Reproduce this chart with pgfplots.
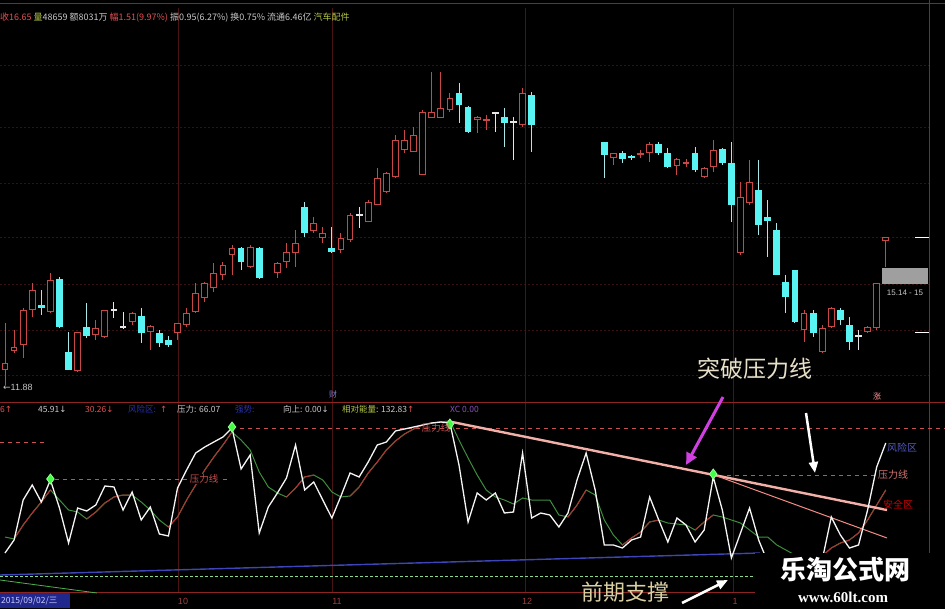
\documentclass[border=0pt]{standalone}
\usepackage{pgfplots}
\pgfplotsset{compat=1.18}
\usepackage{pgfplotstable}
\usepackage{fontspec}
\setmainfont{Liberation Sans}
\newfontfamily\cjk{Noto Sans CJK SC}
\newfontfamily\dejavu{DejaVu Sans}
\newfontfamily\wmserif{Liberation Serif}
\usetikzlibrary{arrows.meta}
\definecolor{cred}{HTML}{C84848}
\definecolor{ccyan}{HTML}{58F4F4}
\definecolor{cwick}{HTML}{A8E8E8}
\definecolor{cdoji}{HTML}{E6E6E6}
\definecolor{gridred}{HTML}{4A1414}
\definecolor{gridred2}{HTML}{381010}
\definecolor{sepred}{HTML}{8C2424}
\definecolor{trend}{HTML}{F2B0A8}
\definecolor{indred}{HTML}{B03232}
\definecolor{indgreen}{HTML}{3E8E3E}
\definecolor{indblue}{HTML}{2828B4}
\definecolor{lblred}{HTML}{C85050}
\definecolor{hdrgray}{HTML}{C8C8C8}
\definecolor{hdrred}{HTML}{E05050}
\definecolor{hdrgreen}{HTML}{B4C448}
\definecolor{hdrblue}{HTML}{2830B0}
\definecolor{hdrpurple}{HTML}{9050C0}
\definecolor{annot}{HTML}{E8E0C8}
\definecolor{annot2}{HTML}{D8CFA2}
\definecolor{magentaarrow}{HTML}{D040E0}

% candles: i open high low close (values in screen units, larger = lower price)
\pgfplotstableread{
i o h l c
0 370 323 385 363
1 351 330 353 347
2 345 308 358 310
3 310 283 317 290
5 312 273 313 280
8 371 332 372 332
10 335 320 340 328
11 337 310 338 310
14 322 312 325 313
16 332 325 350 326
19 333 323 340 323
20 325 308 327 313
21 312 283 313 293
22 298 282 302 283
23 288 263 292 273
24 275 262 280 265
25 255 245 275 248
27 267 245 268 247
30 273 262 278 263
31 262 243 268 252
32 253 230 267 243
34 231 217 233 223
35 238 227 243 233
37 250 233 253 238
38 240 213 242 215
40 222 200 222 202
41 205 168 205 178
42 192 172 193 173
43 177 135 178 140
44 150 130 153 140
45 152 127 152 135
46 175 110 175 112
47 118 72 118 112
48 118 72 118 108
49 110 93 112 98
52 120 116 133 117
53 120 115 130 120
57 125 88 127 93
67 158 153 165 153
70 154 150 158 154
71 153 142 162 144
74 166 158 175 159
75 163 159 167 163
77 177 167 178 168
78 167 140 172 150
81 253 182 255 197
82 203 160 205 182
88 330 310 342 313
90 352 325 353 328
91 327 307 328 308
95 332 326 333 327
96 328 283 330 283
97 241 237 267 237
}\candU
\pgfplotstableread{
i o h l c
4 305 290 315 308
6 279 277 328 327
7 352 332 370 370
9 327 303 338 336
15 316 308 343 333
17 333 330 347 343
18 340 336 347 345
26 248 247 270 262
28 248 247 279 278
33 207 202 237 233
36 248 227 253 252
50 93 83 123 105
51 107 106 133 132
55 117 108 147 123
58 95 92 152 125
66 142 142 178 155
68 153 151 163 159
69 156 155 160 158
72 144 142 155 153
73 153 148 168 167
76 153 147 172 170
79 149 148 165 163
80 163 142 222 205
83 190 160 235 225
84 217 200 257 221
85 230 223 275 275
86 282 275 313 297
87 270 270 323 322
89 313 310 337 333
92 310 308 325 320
93 325 317 350 342
}\candD
\pgfplotstableread{
i o h l c
12 310 302 318 310
13 327 312 329 327
39 215 207 228 215
54 113 112 132 113
56 122 117 160 122
94 336 330 350 336
}\candX
% indicator: i white smooth
\pgfplotstableread{
i w s
0 553 537
1 540 539
2 500 525
3 485 513
4 502 502
5 480 490
6 508 500
7 543 510
8 508 512
9 511 519
10 505 512
11 486 503
12 487 497
13 510 495
14 492 495
15 520 502
16 507 510
17 534 520
18 536 527
19 488 517
20 470 500
21 453 485
22 447 470
23 442 457
24 437 445
25 428 432
26 469 440
27 455 450
28 533 472
29 507 487
30 493 493
31 478 497
32 445 488
33 490 477
34 482 475
35 500 480
36 518 492
37 496 497
38 473 496
39 477 487
40 462 473
41 445 462
42 442 450
43 431 441
44 429 434
45 427 429
46 425 425
47 423 423
48 422 422
49 423 421
50 465 440
51 522 458
52 493 475
53 500 490
54 493 497
55 513 500
56 512 504
57 453 498
58 518 500
59 513 500
60 515 500
61 527 515
62 513 517
63 480 505
64 453 490
65 490 495
66 545 520
67 545 535
68 548 545
69 540 538
70 537 532
71 497 522
72 520 520
73 542 523
74 518 524
75 525 525
76 542 530
77 530 522
78 477 515
79 510 517
80 558 520
81 533 523
82 508 530
83 540 537
84 562 537
85 572 545
86 565 550
87 575 555
88 568 558
89 570 560
90 560 556
91 517 548
92 535 543
93 548 540
94 545 533
95 510 520
96 467 505
97 443 490
}\ind

\pgfplotsset{
  candle/.style 2 args={only marks, mark=none, mark size=0pt, color=#1,
    error bars/.cd, y dir=both, y explicit, error mark=none,
    error bar style={line width=#2, color=#1}},
}

\begin{document}
\begin{tikzpicture}
\path[use as bounding box, clip] (0,0) rectangle (945pt,609pt);
\fill[black] (0,0) rectangle (945pt,609pt);
\begin{axis}[at={(0,0)}, anchor=south west, width=945pt, height=609pt,
  scale only axis, hide axis, xmin=-0.5507, xmax=103.524, ymin=0, ymax=609,
  y dir=reverse]
% ---- grid lines upper panel
\pgfplotsinvokeforeach{65,127,183,237,284,330,375}{
  \addplot[gridred2, dash pattern=on 2pt off 2pt, line width=0.6pt] coordinates {(-0.55,#1) (101.76,#1)};
}
\pgfplotsinvokeforeach{19.05,36.01,57.27,80.18}{
  \addplot[gridred, line width=0.7pt] coordinates {(#1,8) (#1,592)};
}
\addplot[sepred, line width=0.8pt] coordinates {(101.76,0) (101.76,592)};
\addplot[sepred, line width=0.8pt] coordinates {(-0.55,3) (103.52,3)};
\addplot[sepred, line width=0.8pt] coordinates {(-0.55,402) (103.52,402)};
\addplot[sepred, line width=0.8pt] coordinates {(-0.55,592) (103.52,592)};
\addplot[white, line width=0.8pt] coordinates {(100.2,237) (101.76,237)};
\addplot[white, line width=0.8pt] coordinates {(100.2,332) (101.76,332)};
% ---- candles: wicks
\addplot[candle={cred}{1pt}]
  table[x=i, y expr={(\thisrow{h}+\thisrow{l})/2}, y error expr={(\thisrow{l}-\thisrow{h})/2}] {\candU};
\addplot[candle={cwick}{1pt}]
  table[x=i, y expr={(\thisrow{h}+\thisrow{l})/2}, y error expr={(\thisrow{l}-\thisrow{h})/2}] {\candD};
\addplot[candle={cdoji}{1pt}]
  table[x=i, y expr={(\thisrow{h}+\thisrow{l})/2}, y error expr={(\thisrow{l}-\thisrow{h})/2}] {\candX};
% bodies
\addplot[candle={cred}{6.8pt}]
  table[x=i, y expr={(\thisrow{o}+\thisrow{c})/2}, y error expr={max(abs(\thisrow{o}-\thisrow{c})/2,0.7)}] {\candU};
\addplot[candle={black}{4.8pt}]
  table[x=i, y expr={(\thisrow{o}+\thisrow{c})/2}, y error expr={max(abs(\thisrow{o}-\thisrow{c})/2-1,0)}] {\candU};
\addplot[candle={ccyan}{6.8pt}]
  table[x=i, y expr={(\thisrow{o}+\thisrow{c})/2}, y error expr={max(abs(\thisrow{o}-\thisrow{c})/2,0.7)}] {\candD};
\addplot[candle={cdoji}{6.8pt}]
  table[x=i, y expr={(\thisrow{o}+\thisrow{c})/2}, y error expr={0.8}] {\candX};
% ---- indicator panel
\addplot[hdrblue!90!white, line width=1.4pt] coordinates {(-0.55,575) (83.15,553)};
\addplot[white!55!green!70!gray, dash pattern=on 2.5pt off 2.5pt, line width=0.9pt] coordinates {(-0.55,576) (83.15,576)};
\addplot[green!40!gray, line width=0.8pt] coordinates {(-0.55,580) (10.13,593)};
\addplot[lblred, dash pattern=on 4pt off 4pt, line width=0.8pt] coordinates {(-0.55,442) (4.63,442)};
\addplot[lblred, dash pattern=on 4pt off 4pt, line width=0.8pt] coordinates {(5.5,479) (24.8,479)};
\addplot[lblred, dash pattern=on 4pt off 4pt, line width=0.8pt] coordinates {(25.9,428) (103.5,428)};
\addplot[lblred, dash pattern=on 4pt off 4pt, line width=0.8pt] coordinates {(79.5,475) (96.0,475)};
% smoothed line green then red segments
\addplot[indgreen, line width=1pt] table[x=i, y=s] {\ind};
\pgfplotsinvokeforeach{1:5,9:14,18:25,31:34,38:49,62:64,68:72,76:78,90:97}{
  \addplot[indred, line width=1pt, restrict x to domain=#1] table[x=i, y=s] {\ind};
}
% trend lines
\addplot[trend, line width=2.4pt] coordinates {(49.23,422) (97.14,510)};
\addplot[trend!80!red, line width=1pt] coordinates {(78.41,476) (97.14,538)};
% main white line
\addplot[white!92!gray, line width=1.3pt] table[x=i, y=w] {\ind};
% peak markers
\addplot[only marks, mark=diamond*, mark size=5pt, mark options={fill=green!75!white, draw=green!40!white, line width=0.8pt}]
  coordinates {(5,479) (25,427) (49,424) (78,474)};
\end{axis}
\begin{scope}[shift={(0,609pt)}, x=1pt, y=-1pt]
% gray price box
\fill[gray!75] (882,268) rectangle (928,284);
\node[anchor=center, text=hdrgray, font=\fontsize{8}{8}\selectfont] at (905,293) {15.14 - 15};
\node[anchor=west, text=hdrgray, inner sep=0, font=\fontsize{9}{9}\selectfont] at (3,387) {{\dejavu ←}11.88};
\node[text=indblue!60!white, font=\cjk\fontsize{8}{8}\selectfont] at (333,394) {财};
\node[text=red!40!white, font=\cjk\fontsize{8}{8}\selectfont] at (877,397) {涨};
% top header
\node[anchor=west, inner sep=0, font=\cjk\fontsize{9}{9}\selectfont] at (0,18) {%
\textcolor{hdrred}{收16.65} \textcolor{hdrgreen}{量}\textcolor{hdrgray}{48659} \textcolor{hdrgray}{额8031万} \textcolor{hdrred}{幅1.51(9.97\%)} \textcolor{hdrgray}{振0.95(6.27\%)} \textcolor{hdrgray}{换0.75\%} \textcolor{hdrgray}{流通6.46亿} \textcolor{hdrgreen}{汽车配件}};
% lower header
\begin{scope}[every node/.style={anchor=west, inner sep=0, font=\cjk\fontsize{8.5}{9}\selectfont}]
\node[text=hdrred] at (0,409) {6{\dejavu↑}};
\node[text=hdrgray] at (38,409) {45.91{\dejavu↓}};
\node[text=hdrred] at (85,409) {30.26{\dejavu↓}};
\node[text=hdrblue] at (128,409) {风险区:};
\node[text=hdrred] at (160,409) {\dejavu↑};
\node[text=hdrgray] at (177,409) {压力: 66.07};
\node[text=hdrblue] at (235,409) {强势:};
\node[text=hdrgray] at (283,409) {向上: 0.00{\dejavu↓}};
\node[text=hdrgray] at (342,409) {\textcolor{hdrgreen}{相对能量}: 132.83\textcolor{hdrred}{\dejavu↑}};
\node[text=hdrpurple] at (450,409) {XC 0.00};
\end{scope}
% indicator labels
\node[fill=black, inner sep=1pt, text=lblred, font=\cjk\fontsize{9.5}{10}\selectfont] at (204,479) {压力线};
\node[inner sep=1pt, text=lblred, font=\cjk\fontsize{9.5}{10}\selectfont] at (436,428) {压力线};
\node[fill=black, inner sep=1pt, text=lblred!80!white, font=\cjk\fontsize{10}{10}\selectfont] at (893,475) {压力线};
\node[inner sep=1pt, text=hdrblue!80!white, font=\cjk\fontsize{10}{10}\selectfont] at (902,448) {风险区};
\node[inner sep=1pt, text=red!80!black, font=\cjk\fontsize{10}{10}\selectfont] at (898,505) {安全区};
% date axis
\fill[hdrblue!80!black] (0,593) rectangle (70,608);
\node[anchor=west, inner sep=1pt, text=white!80!blue, font=\cjk\fontsize{8.5}{9}\selectfont] at (0,600.5) {2015/09/02/三};
\begin{scope}[every node/.style={text=lblred!80!black, font=\fontsize{9}{9}\selectfont}]
\node at (183,601) {10};
\node at (337,601) {11};
\node at (527,601) {12};
\node at (735,601) {1};
\end{scope}
% annotations
\node[text=annot, font=\cjk\fontsize{23}{23}\selectfont] at (755,369) {突破压力线};
\draw[magentaarrow, line width=3pt, -{Triangle[length=12pt, width=11pt]}] (723,397) -- (686,465);
\draw[white, line width=2.5pt, -{Triangle[length=11pt, width=9pt]}] (806,413) -- (815,473);
\fill[black] (755,553) rectangle (945,609);
\node[text=annot2, font=\cjk\fontsize{22}{22}\selectfont] at (625,592) {前期支撑};
\draw[white, line width=2.5pt, -{Triangle[length=11pt, width=9pt]}] (682,603) -- (728,580);
\node[text=white, font=\cjk\bfseries\fontsize{26}{26}\selectfont] at (845,570) {乐淘公式网};
\node[text=white, font=\wmserif\bfseries\fontsize{15}{15}\selectfont] at (843,597) {www.60lt.com};
\end{scope}
\end{tikzpicture}
\end{document}
